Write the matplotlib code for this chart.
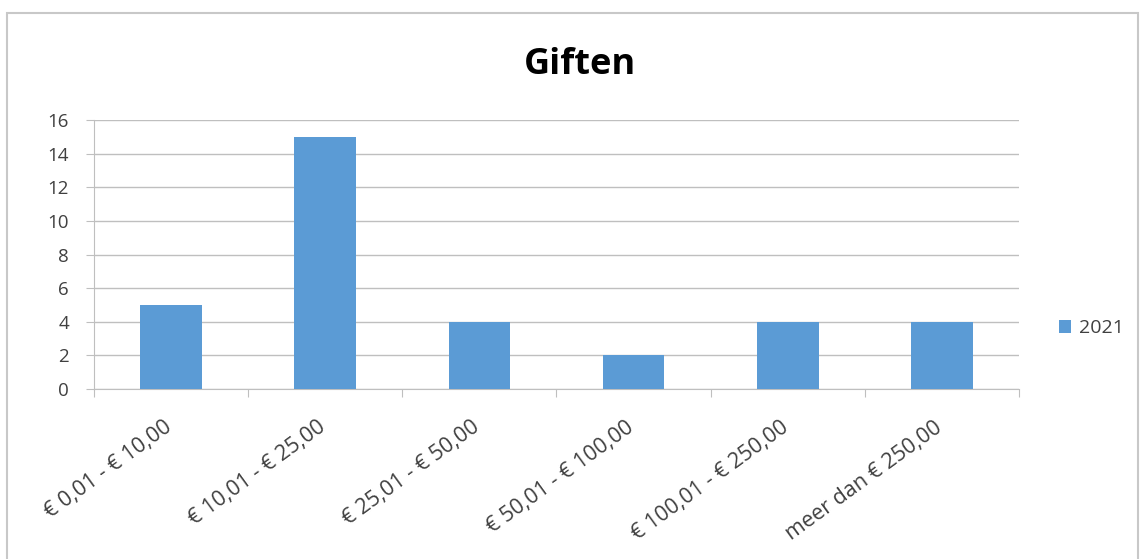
import matplotlib.pyplot as plt
import matplotlib.patches as mpatches
import matplotlib.transforms as mtransforms
import numpy as np

categories = ['€ 0,01 - € 10,00', '€ 10,01 - € 25,00', '€ 25,01 - € 50,00',
              '€ 50,01 - € 100,00', '€ 100,01 - € 250,00', 'meer dan € 250,00']
values_2021 = [5, 15, 4, 2, 4, 4]
series_name = '2021'

plt.rcParams['font.family'] = ['Open Sans', 'DejaVu Sans']

W, H = 1146, 559
fig = plt.figure(figsize=(W / 100, H / 100), dpi=100)

# chart frame
fig.patches.append(mpatches.Rectangle((7 / W, -0.05), 1131 / W, 1 - 13 / H + 0.05,
                                      transform=fig.transFigure, fill=False,
                                      edgecolor='#c8c8c8', linewidth=1.5))

ax = fig.add_axes([94 / W, 1 - 389 / H, (1019 - 94) / W, (389 - 120) / H])

x = np.arange(len(categories))
ax.bar(x, values_2021, width=0.4, color='#5b9bd5', label=series_name, zorder=3)

ax.set_xlim(-0.5, len(categories) - 0.5)
ax.set_ylim(0, 16)
ax.set_yticks(range(0, 17, 2))
ax.yaxis.grid(True, color='#bfbfbf', linewidth=1, zorder=0)
ax.tick_params(axis='y', length=6, color='#bfbfbf', labelsize=13.5,
               labelcolor='#404040', pad=12)

ax.set_xticks(np.arange(-0.5, len(categories)), minor=False)
ax.set_xticklabels([])
ax.set_xticks(x, minor=True)
ax.set_xticklabels(categories, minor=True, rotation=36, ha='right', va='top',
                   rotation_mode='anchor', fontsize=15.5, color='#404040')
ax.tick_params(axis='x', which='major', length=6, color='#bfbfbf')
ax.tick_params(axis='x', which='minor', length=0, pad=20)
shift = mtransforms.ScaledTranslation(-8 / 100, 0, fig.dpi_scale_trans)
for lbl in ax.get_xticklabels(minor=True):
    lbl.set_transform(lbl.get_transform() + shift)

for s in ['top', 'right']:
    ax.spines[s].set_visible(False)
for s in ['left', 'bottom']:
    ax.spines[s].set_color('#bfbfbf')

fig.text(580 / W, 1 - 74 / H, 'Giften', ha='center', va='baseline',
         fontsize=26, fontweight='bold', color='#000000')

ax.legend(loc='center left', bbox_to_anchor=(1041 / W, 1 - 328 / H),
          bbox_transform=fig.transFigure, frameon=False, fontsize=14,
          handlelength=0.65, handleheight=0.65, handletextpad=0.4,
          labelcolor='#404040')

fig.savefig('out.png', dpi=100)
